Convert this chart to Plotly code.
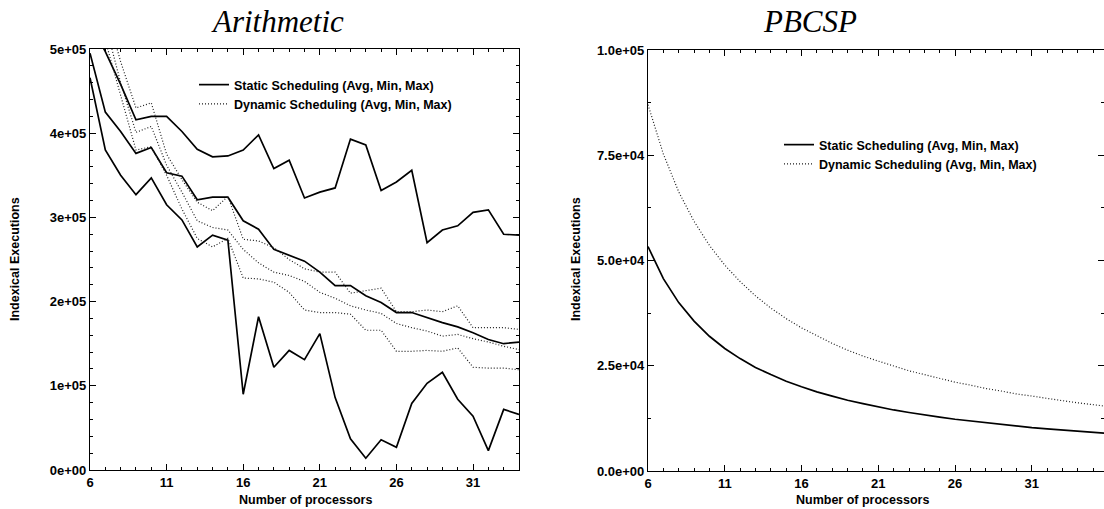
import plotly.graph_objects as go

# ---------------- data ----------------
arith_procs = list(range(6, 35))
arith_static_avg = [495000, 425000, 402000, 376000, 383000, 353000, 349000, 321000, 324000, 324000,
                    296000, 286000, 262000, 255000, 248000, 235000, 219000, 219000, 207000, 199000,
                    187000, 187000, 181000, 175000, 170000, 163000, 155000, 150000, 152000]
arith_static_min = [466000, 380000, 350000, 327000, 347000, 315000, 297000, 265000, 279000, 273000,
                    90000, 182000, 122000, 142000, 131000, 162000, 86000, 37000, 14000, 36000,
                    27000, 79000, 103000, 116000, 84000, 64000, 23000, 72000, 66000]
arith_static_max = [530000, 497000, 458000, 416000, 420000, 420000, 402000, 381000, 372000, 373000,
                    380000, 398000, 358000, 368000, 323000, 330000, 335000, 393000, 386000, 332000,
                    342000, 356000, 270000, 285000, 290000, 306000, 309000, 280000, 279000]
arith_dyn_avg = [600000, 530000, 460000, 401000, 408000, 362000, 330000, 296000, 288000, 285000,
                 262000, 246000, 235000, 231000, 224000, 211000, 204000, 195000, 190000, 186000,
                 174000, 169000, 165000, 159000, 161000, 156000, 152000, 147000, 143000]
arith_dyn_min = [580000, 510000, 445000, 380000, 384000, 350000, 310000, 275000, 265000, 275000,
                 228000, 227000, 223000, 211000, 190000, 187000, 187000, 185000, 166000, 166000,
                 141000, 141000, 142000, 141000, 145000, 122000, 121000, 121000, 119000]
arith_dyn_max = [620000, 550000, 485000, 430000, 436000, 375000, 345000, 318000, 308000, 325000,
                 274000, 272000, 264000, 250000, 239000, 235000, 235000, 210000, 213000, 216000,
                 188000, 188000, 190000, 188000, 195000, 169000, 169000, 169000, 167000]

pbcsp_procs = list(range(6, 37))
pbcsp_static = [53300, 45700, 40000, 35600, 32000, 29100, 26700, 24600, 22900, 21300,
                20000, 18800, 17800, 16800, 16000, 15200, 14500, 13900, 13300, 12800,
                12300, 11900, 11400, 11000, 10700, 10300, 10000, 9700, 9400, 9100, 8900]
pbcsp_dynamic = [87000, 75300, 66300, 59300, 53600, 48900, 45000, 41600, 38700, 36200,
                 34000, 32100, 30300, 28700, 27300, 26100, 24900, 23800, 22900, 22000,
                 21100, 20400, 19600, 19000, 18300, 17800, 17200, 16700, 16200, 15800, 15300]

x_ticks = [6, 11, 16, 21, 26, 31]
arith_y_ticks = [0, 100000, 200000, 300000, 400000, 500000]
arith_y_labels = ["0e+00", "1e+05", "2e+05", "3e+05", "4e+05", "5e+05"]
pbcsp_y_ticks = [0, 25000, 50000, 75000, 100000]
pbcsp_y_labels = ["0.0e+00", "2.5e+04", "5.0e+04", "7.5e+04", "1.0e+05"]

static_name = "Static Scheduling (Avg, Min, Max)"
dynamic_name = "Dynamic Scheduling (Avg, Min, Max)"

# ---------------- styling ----------------
W, H = 1104, 509
TICKFONT = dict(family="Liberation Sans", size=13, color="black", weight="bold")
STATIC_LINE = dict(color="black", width=1.7)
DYN_LINE = dict(color="#1e1e1e", width=1.2, dash="1px,2px")

fig = go.Figure()

def add(x, y, line, name, show, legend, xa, ya):
    fig.add_trace(go.Scatter(x=x, y=y, mode="lines", line=line, name=name,
                             showlegend=show, legend=legend, xaxis=xa, yaxis=ya,
                             legendgroup=name + legend))

# Arithmetic (left)
add(arith_procs, arith_static_avg, STATIC_LINE, static_name, True, "legend", "x", "y")
add(arith_procs, arith_static_min, STATIC_LINE, static_name, False, "legend", "x", "y")
add(arith_procs, arith_static_max, STATIC_LINE, static_name, False, "legend", "x", "y")
add(arith_procs, arith_dyn_avg, DYN_LINE, dynamic_name, True, "legend", "x", "y")
add(arith_procs, arith_dyn_min, DYN_LINE, dynamic_name, False, "legend", "x", "y")
add(arith_procs, arith_dyn_max, DYN_LINE, dynamic_name, False, "legend", "x", "y")

# PBCSP (right)
add(pbcsp_procs, pbcsp_static, STATIC_LINE, static_name, True, "legend2", "x2", "y2")
add(pbcsp_procs, pbcsp_dynamic, DYN_LINE, dynamic_name, True, "legend2", "x2", "y2")

def px_x(p):
    return p / W

def px_y(p):
    return 1 - p / H

common_axis = dict(showgrid=False, zeroline=False, showline=True, linecolor="black",
                   linewidth=1.3, ticks="inside", ticklen=6, tickcolor="black",
                   tickfont=TICKFONT, mirror="ticks", automargin=False)
minor_x = dict(dtick=1, tick0=6, ticks="inside", ticklen=3, tickcolor="black")

LEGFONT = dict(family="Liberation Sans", size=12.5, color="black", weight="bold")

fig.update_layout(
    width=W, height=H,
    margin=dict(l=0, r=0, t=0, b=0, autoexpand=False),
    paper_bgcolor="white", plot_bgcolor="white",
    xaxis=dict(common_axis, domain=[px_x(90), px_x(519)], range=[6, 34],
               tickvals=x_ticks, anchor="y", minor=minor_x),
    yaxis=dict(common_axis, domain=[px_y(470), px_y(49)], range=[0, 500000],
               tickvals=arith_y_ticks, ticktext=arith_y_labels, anchor="x",
               minor=dict(dtick=20000, tick0=0, ticks="inside", ticklen=3, tickcolor="black")),
    xaxis2=dict(common_axis, domain=[px_x(648), 1.0], range=[6, 35.7],
                tickvals=x_ticks, anchor="y2", minor=minor_x),
    yaxis2=dict(common_axis, domain=[px_y(471), px_y(50)], range=[0, 100000],
                tickvals=pbcsp_y_ticks, ticktext=pbcsp_y_labels, anchor="x2",
                minor=dict(dtick=12500, tick0=0, ticks="inside", ticklen=3, tickcolor="black")),
    legend=dict(x=px_x(194), y=px_y(70), xanchor="left", yanchor="top",
                bgcolor="rgba(0,0,0,0)", font=LEGFONT, tracegroupgap=0, itemwidth=30),
    legend2=dict(x=px_x(779), y=px_y(130), xanchor="left", yanchor="top",
                 bgcolor="rgba(0,0,0,0)", font=LEGFONT, tracegroupgap=0, itemwidth=30),
    showlegend=True,
)

ann_font = dict(family="Liberation Sans", size=12.5, color="black", weight="bold")
title_font = dict(family="Liberation Serif", size=31, color="black")
annotations = [
    dict(text="<i>Arithmetic</i>", x=px_x(277), y=px_y(21), font=title_font),
    dict(text="<i>PBCSP</i>", x=px_x(810), y=px_y(21), font=title_font),
    dict(text="Number of processors", x=px_x(305), y=px_y(500), font=ann_font),
    dict(text="Number of processors", x=px_x(862), y=px_y(500), font=ann_font),
    dict(text="Indexical Executions", x=px_x(15), y=px_y(259), font=ann_font, textangle=-90),
    dict(text="Indexical Executions", x=px_x(576), y=px_y(259), font=ann_font, textangle=-90),
]
for a in annotations:
    a.update(xref="paper", yref="paper", showarrow=False, xanchor="center", yanchor="middle")
fig.update_layout(annotations=annotations)

fig.write_html(
    "out.html",
    config={"displayModeBar": False},
    post_script="document.body.style.margin='0';document.body.style.overflow='hidden';",
)
